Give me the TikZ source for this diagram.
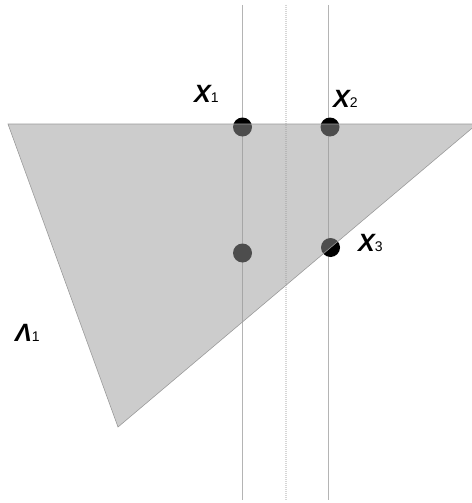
\documentclass[tikz,border=0pt]{standalone}
\usepackage{fontspec}
\setmainfont{Liberation Sans}
\usetikzlibrary{positioning}
\definecolor{shade}{HTML}{9A9A9A}
\definecolor{rule}{HTML}{B4B4B4}
\definecolor{edge}{HTML}{9A9A9A}
\tikzset{
  % A vertical guide line
  guide/.style={draw=rule, line width=0.7pt},
  % The guide between the two others
  midguide/.style={draw=black!16, line width=1.4pt, dash pattern=on 1pt off 1pt},
  % A point
  dot/.style={circle, fill=black, draw=none, inner sep=0pt, minimum size=19pt},
  % The region
  region/.style={fill=shade, fill opacity=0.5, draw=edge, line width=0.6pt},
  lbl/.style={inner sep=0pt, anchor=base west},
}
\newcommand{\ptlabel}[2]{%
  {\fontsize{25}{25}\selectfont\bfseries\itshape #1}{\fontsize{14}{14}\selectfont #2}}

\begin{document}
\begin{tikzpicture}[x=1pt, y=-1pt]

  \useasboundingbox (0,0) rectangle (471,503);

  \coordinate (ltop) at (242.5,5);
  \coordinate (lbot) at (242.5,500);
  \coordinate (mtop) at (286,5);
  \coordinate (mbot) at (286,500);
  \coordinate (rtop) at (328.5,5);
  \coordinate (rbot) at (328.5,500);

  \draw[guide] (ltop) -- (lbot);
  \draw[midguide] (mtop) -- (mbot);
  \draw[guide] (rtop) -- (rbot);

  \node[dot] (x1) at (242.5,127) {};
  \node[dot] (x2) at (330,127) {};
  \node[dot] (x4) at (242.5,253) {};
  \node[dot] (x3) at (330.5,247.5) {};

  \coordinate (west) at (8,124);
  \coordinate (east) at (477,124);
  \coordinate (south) at (118,427);
  \draw[region] (west) -- (east) -- (south) -- cycle;

  \node[lbl] (l1) at (194,102) {\ptlabel{X}{1}};
  \node[lbl] (l2) at (333,107) {\ptlabel{X}{2}};
  \node[lbl] (l3) at (358,251) {\ptlabel{X}{3}};
  \node[lbl] (lam) at (15,341) {\ptlabel{Λ}{1}};

\end{tikzpicture}
\end{document}
